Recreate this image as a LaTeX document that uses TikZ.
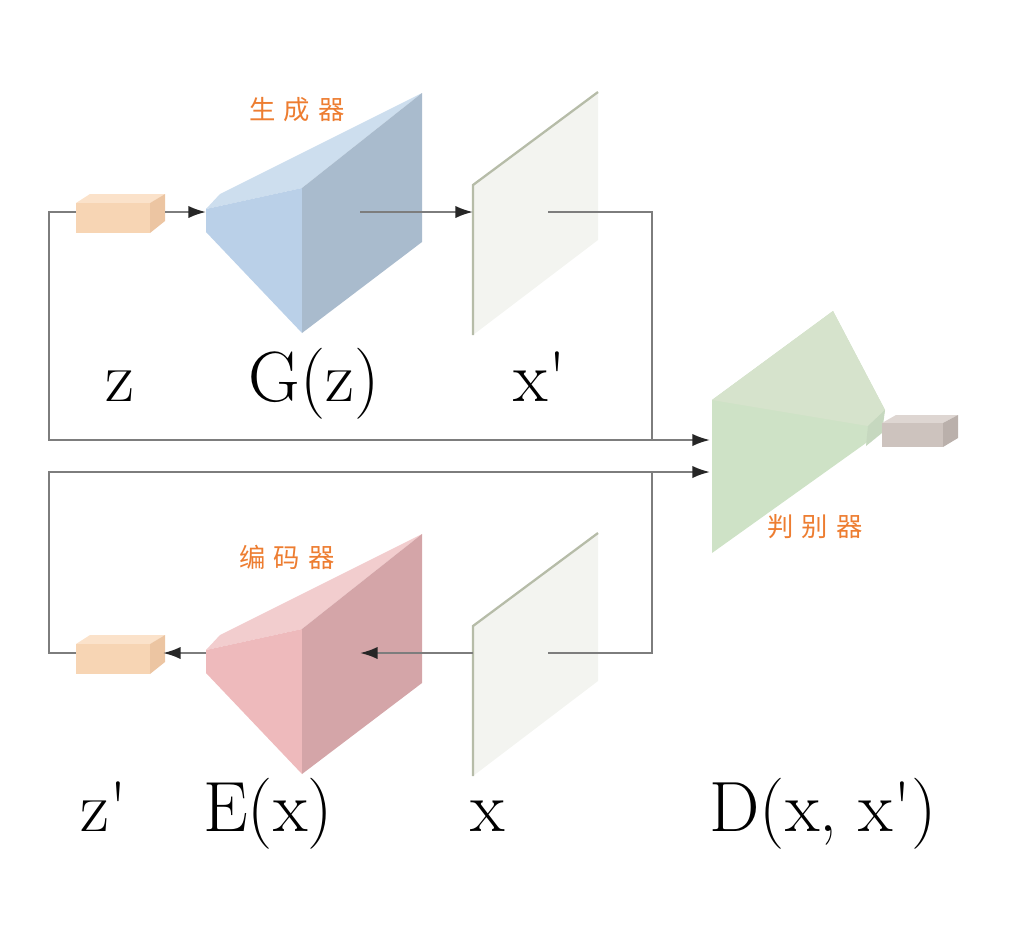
\documentclass[tikz,border=0pt]{standalone}
\usepackage{fontspec}
\newfontfamily\cjk{Noto Sans CJK SC}
\usetikzlibrary{arrows.meta, positioning, calc}
\definecolor{wire}{RGB}{125,125,125}
\definecolor{tag}{RGB}{237,125,49}
\definecolor{codefront}{RGB}{247,213,180}
\definecolor{codetop}{RGB}{251,226,202}
\definecolor{coderight}{RGB}{236,197,162}
\definecolor{genfront}{RGB}{186,208,232}
\definecolor{genright}{RGB}{169,187,205}
\definecolor{gentop}{RGB}{205,222,238}
\definecolor{encfront}{RGB}{238,186,188}
\definecolor{encright}{RGB}{212,165,168}
\definecolor{enctop}{RGB}{242,205,206}
\definecolor{disfront}{RGB}{206,226,198}
\definecolor{distop}{RGB}{214,227,204}
\definecolor{planefill}{RGB}{243,244,240}
\definecolor{planeedge}{RGB}{182,188,168}
\definecolor{outfront}{RGB}{205,195,190}
\definecolor{outtop}{RGB}{222,214,210}
\definecolor{outright}{RGB}{186,176,171}

\begin{document}
\begin{tikzpicture}[
        x=0.02cm, y=-0.02cm,
        wireline/.style={draw=wire, line width=1.2pt},
        arrow/.style={wireline, -{Latex[length=10pt, width=7pt, color=black!85]}},
        lbl/.style={font=\fontsize{40.5}{42}\selectfont, anchor=base, inner sep=0pt},
        cn/.style={font=\cjk\fontsize{15}{16}\selectfont, text=tag, inner sep=0pt},
        edge/.style={draw=planeedge, line width=1.3pt},
    ]
        \useasboundingbox (0,0) rectangle (1013,944);

        % latent code z
        \fill[codetop] (76,203) -- (90,194) -- (165,194) -- (150,203) -- cycle;
        \fill[codefront] (76,203) rectangle (150,233);
        \fill[coderight] (150,203) -- (165,194) -- (165,221) -- (150,233) -- cycle;
        \coordinate (zin) at (76,212);
        \coordinate (zout) at (165,212);

        % generator
        \fill[gentop] (206,209) -- (220,194) -- (422,93) -- (302,188) -- cycle;
        \fill[genfront] (206,209) -- (302,188) -- (302,333) -- (206,232) -- cycle;
        \fill[genright] (302,188) -- (422,93) -- (422,242) -- (302,333) -- cycle;
        \coordinate (gin) at (206,212);
        \coordinate (gout) at (360,212);

        % generated sample x'
        \fill[planefill] (473,185) -- (598,92) -- (598,240) -- (473,335) -- cycle;
        \draw[edge] (473,335) -- (473,185) -- (598,92);
        \coordinate (xpin) at (473,212);
        \coordinate (xpout) at (548,212);

        % encoder
        \fill[enctop] (206,650) -- (220,635) -- (422,534) -- (302,629) -- cycle;
        \fill[encfront] (206,650) -- (302,629) -- (302,774) -- (206,673) -- cycle;
        \fill[encright] (302,629) -- (422,534) -- (422,683) -- (302,774) -- cycle;
        \coordinate (eout) at (206,653);
        \coordinate (ein) at (360,653);

        % latent code z'
        \fill[codetop] (76,644) -- (90,635) -- (165,635) -- (150,644) -- cycle;
        \fill[codefront] (76,644) rectangle (150,674);
        \fill[coderight] (150,644) -- (165,635) -- (165,662) -- (150,674) -- cycle;
        \coordinate (zpin) at (163,653);
        \coordinate (zpout) at (76,653);

        % real sample x
        \fill[planefill] (473,626) -- (598,533) -- (598,681) -- (473,776) -- cycle;
        \draw[edge] (473,776) -- (473,626) -- (598,533);
        \coordinate (xout) at (473,653);
        \coordinate (xside) at (548,653);

        % discriminator
        \fill[disfront] (712,400) -- (833,311) -- (885,410) -- (880,433) -- (712,553) -- cycle;
        \fill[distop] (712,400) -- (833,311) -- (885,410) -- (868,426) -- cycle;
        \fill[disfront!90!gray] (868,426) -- (885,410) -- (882,433) -- (866,446) -- cycle;
        \coordinate (din1) at (710,440);
        \coordinate (din2) at (710,472);

        % output score
        \fill[outtop] (882,423) -- (896,415) -- (958,415) -- (943,423) -- cycle;
        \fill[outfront] (882,423) rectangle (943,447);
        \fill[outright] (943,423) -- (958,415) -- (958,438) -- (943,447) -- cycle;

        % connectors
        \coordinate (tl) at (49,212);
        \coordinate (bl) at (49,653);
        \coordinate (tj) at (652,440);
        \coordinate (bj) at (652,472);
        \draw[arrow] (zout) -- (gin);
        \draw[arrow] (gout) -- (xpin);
        \draw[arrow] (zin) -- (tl) |- (din1);
        \draw[wireline] (xpout) -| (tj);
        \draw[arrow] (zpout) -- (bl) |- (din2);
        \draw[wireline] (xside) -| (bj);
        \draw[arrow] (xout) -- (ein);
        \draw[arrow] (eout) -- (zpin);

        % labels
        \node[lbl] (zlab) at (120,401) {z};
        \node[lbl] (glab) at (314,401) {G(z)};
        \node[lbl] (xplab) at (540,401) {x\textquotesingle};
        \node[lbl] (zplab) at (104,831) {z\textquotesingle};
        \node[lbl] (elab) at (268,831) {E(x)};
        \node[lbl] (xlab) at (488,831) {x};
        \node[lbl] (dlab) at (823,831) {D(x, x\textquotesingle)};

        \node[cn] (gentag) at (297,110) {生\hspace{.3em}成\hspace{.3em}器};
        \node[cn] (enctag) at (287,557) {编\hspace{.3em}码\hspace{.3em}器};
        \node[cn] (distag) at (815,527) {判\hspace{.3em}别\hspace{.3em}器};
    \end{tikzpicture}
\end{document}
